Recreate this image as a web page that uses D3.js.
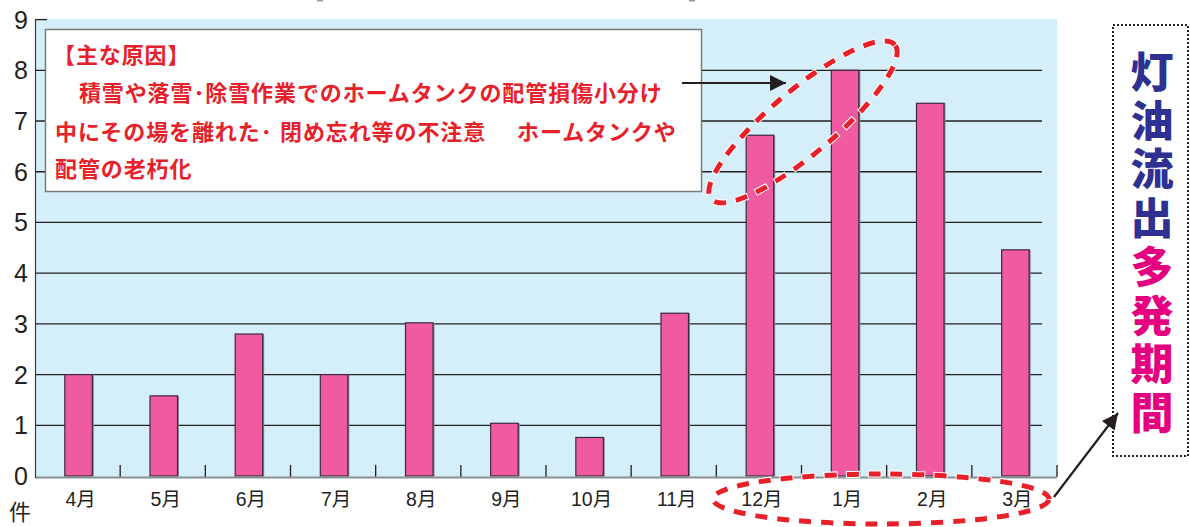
<!DOCTYPE html>
<html lang="ja">
<head>
<meta charset="UTF-8">
<title>灯油流出 月別件数</title>
<script src="https://d3js.org/d3.v7.min.js"></script>
<style>
    body { margin: 0; background: #ffffff; }
    svg { display: block; }
    .jp { font-family: "Noto Sans CJK JP", sans-serif; }
    .num { font-family: "Liberation Sans", Arial, sans-serif; fill: #231f20; }
</style>
</head>
<body>
<svg id="chart" width="1190" height="527"></svg>
<script>
// months (April - March) and number of cases
const months = ["4月", "5月", "6月", "7月", "8月", "9月", "10月", "11月", "12月", "1月", "2月", "3月"];
const cases = [2.0, 1.58, 2.8, 2.0, 3.02, 1.04, 0.76, 3.21, 6.72, 8.0, 7.35, 4.46];
const yTicks = [0, 1, 2, 3, 4, 5, 6, 7, 8, 9];
const causeLines = [
    ["【主な原因】"],
    ["　積雪や落雪･除雪作業でのホームタンクの配管損傷小分け"],
    ["中にその場を離れた･", "閉め忘れ等の不注意", "ホームタンクや"],
    ["配管の老朽化"]
];
const titleBlue = "灯油流出";
const titlePink = "多発期間";

const svg = d3.select("#chart");

const x = d3.scaleBand().domain(months).range([35, 1057]).padding(0);
const y = d3.scaleLinear().domain([0, 9]).range([476, 19.6]);

// plot background
svg.append("rect")
    .attr("x", x.range()[0]).attr("y", 19)
    .attr("width", x.range()[1] - x.range()[0]).attr("height", y(0) + 2 - 19)
    .attr("fill", "#d4eefa");

// gridlines 1..8
svg.append("g").selectAll("line")
    .data(yTicks.filter(d => d > 0 && d < 9))
    .enter().append("line")
    .attr("x1", 35).attr("x2", 1042)
    .attr("y1", d => y(d)).attr("y2", d => y(d))
    .attr("stroke", "#231f20").attr("stroke-width", 1.3);

// short tick at 9
svg.append("line")
    .attr("x1", 35).attr("x2", 47)
    .attr("y1", y(9)).attr("y2", y(9))
    .attr("stroke", "#231f20").attr("stroke-width", 1.3);

// category ticks on x axis
svg.append("g").selectAll("line")
    .data(months)
    .enter().append("line")
    .attr("x1", d => x(d) + x.step())
    .attr("x2", d => x(d) + x.step())
    .attr("y1", y(0) - 11).attr("y2", y(0) + 1)
    .attr("stroke", "#231f20").attr("stroke-width", 1.3);

// bars
const barW = x.bandwidth() * 0.323;
const barX = d => x(d) + (x.bandwidth() - barW) / 2 + 1;
const bars = svg.append("g");
bars.selectAll("rect.shadow")
    .data(cases)
    .enter().append("rect")
    .attr("class", "shadow")
    .attr("x", (d, i) => barX(months[i]) + 1.5)
    .attr("y", d => y(d))
    .attr("width", barW)
    .attr("height", d => y(0) - y(d))
    .attr("fill", "#7f8c98");
bars.selectAll("rect.bar")
    .data(cases)
    .enter().append("rect")
    .attr("class", "bar")
    .attr("x", (d, i) => barX(months[i]))
    .attr("y", d => y(d))
    .attr("width", barW)
    .attr("height", d => y(0) - y(d))
    .attr("fill", "#ef5aa0")
    .attr("stroke", "#3d2b3b")
    .attr("stroke-width", 1.2);

// axes lines
svg.append("line")
    .attr("x1", 35).attr("x2", 1057)
    .attr("y1", y(0) + 1.5).attr("y2", y(0) + 1.5)
    .attr("stroke", "#8a8f94").attr("stroke-width", 2);
svg.append("line")
    .attr("x1", 35.5).attr("x2", 35.5)
    .attr("y1", y(9)).attr("y2", y(0) + 2)
    .attr("stroke", "#3a3a3a").attr("stroke-width", 1.2);

// y labels
svg.append("g").selectAll("text")
    .data(yTicks)
    .enter().append("text")
    .attr("class", "num")
    .attr("x", 21).attr("y", d => y(d) + 9)
    .attr("text-anchor", "middle")
    .attr("font-size", 25)
    .text(d => d);
svg.append("text")
    .attr("class", "jp")
    .attr("x", 20).attr("y", 520)
    .attr("text-anchor", "middle")
    .attr("font-size", 22)
    .attr("fill", "#231f20")
    .text("件");

// x labels
svg.append("g").selectAll("text")
    .data(months)
    .enter().append("text")
    .attr("x", d => x(d) + x.bandwidth() / 2 + 3)
    .attr("y", 506)
    .attr("text-anchor", "middle")
    .attr("font-size", 19.5)
    .attr("fill", "#231f20")
    .attr("font-family", "'Liberation Sans', 'Noto Sans CJK JP', sans-serif")
    .text(d => d);

// cause box
svg.append("rect")
    .attr("x", 45.5).attr("y", 29.5)
    .attr("width", 656).attr("height", 162)
    .attr("fill", "#ffffff")
    .attr("stroke", "#7a7a7a").attr("stroke-width", 1.5);

const lineY = [63, 101, 140, 177];
const partX = [[53], [56], [55, 280, 517], [55]];
const causeG = svg.append("g").attr("class", "jp")
    .attr("fill", "#e62129").attr("font-size", 22).attr("font-weight", 700);
causeLines.forEach((parts, li) => {
    parts.forEach((t, pi) => {
        causeG.append("text")
            .attr("x", partX[li][pi]).attr("y", lineY[li])
            .attr("letter-spacing", 0.9)
            .text(t);
    });
});

// arrow markers
svg.append("defs").append("marker")
    .attr("id", "head").attr("viewBox", "0 0 10 10")
    .attr("refX", 10).attr("refY", 5)
    .attr("markerWidth", 28).attr("markerHeight", 16)
    .attr("markerUnits", "userSpaceOnUse")
    .attr("orient", "auto")
    .append("path").attr("d", "M0,0L10,5L0,10Z").attr("fill", "#231f20");

svg.append("line")
    .attr("x1", 682).attr("y1", 83).attr("x2", 786).attr("y2", 83)
    .attr("stroke", "#231f20").attr("stroke-width", 2.2)
    .attr("marker-end", "url(#head)");

svg.append("line")
    .attr("x1", 1054).attr("y1", 497).attr("x2", 1118).attr("y2", 413)
    .attr("stroke", "#231f20").attr("stroke-width", 2.2)
    .attr("marker-end", "url(#head)");

// dashed ellipses
function dashedEllipse(cx, cy, rx, ry, rot) {
    const g = svg.append("g").attr("transform", `translate(${cx},${cy}) rotate(${rot})`);
    g.append("ellipse").attr("rx", rx).attr("ry", ry)
        .attr("fill", "none").attr("stroke", "#ffffff").attr("stroke-width", 7)
        .attr("stroke-dasharray", "14 8");
    g.append("ellipse").attr("rx", rx).attr("ry", ry)
        .attr("fill", "none").attr("stroke", "#e8202a").attr("stroke-width", 5)
        .attr("stroke-dasharray", "12 10").attr("stroke-dashoffset", -1);
}
dashedEllipse(803, 122, 120, 32, -40);
dashedEllipse(881, 499, 168, 25, 0);

// side title box
svg.append("rect")
    .attr("x", 1113).attr("y", 25)
    .attr("width", 75).attr("height", 431)
    .attr("fill", "none")
    .attr("stroke", "#231f20").attr("stroke-width", 2)
    .attr("stroke-dasharray", "2 2");

const side = svg.append("text")
    .attr("class", "jp")
    .attr("x", 1152).attr("y", 50)
    .attr("font-size", 43)
    .attr("font-weight", 900)
    .attr("letter-spacing", 5.8)
    .style("writing-mode", "vertical-rl");
side.append("tspan").attr("fill", "#2e3192").text(titleBlue);
side.append("tspan").attr("fill", "#e4007f").text(titlePink);

// tiny marks at the top edge
svg.append("g").selectAll("rect")
    .data([320, 692])
    .enter().append("rect")
    .attr("x", d => d - 3).attr("y", 0)
    .attr("width", 6).attr("height", 1.5)
    .attr("fill", "#999");
</script>
</body>
</html>
